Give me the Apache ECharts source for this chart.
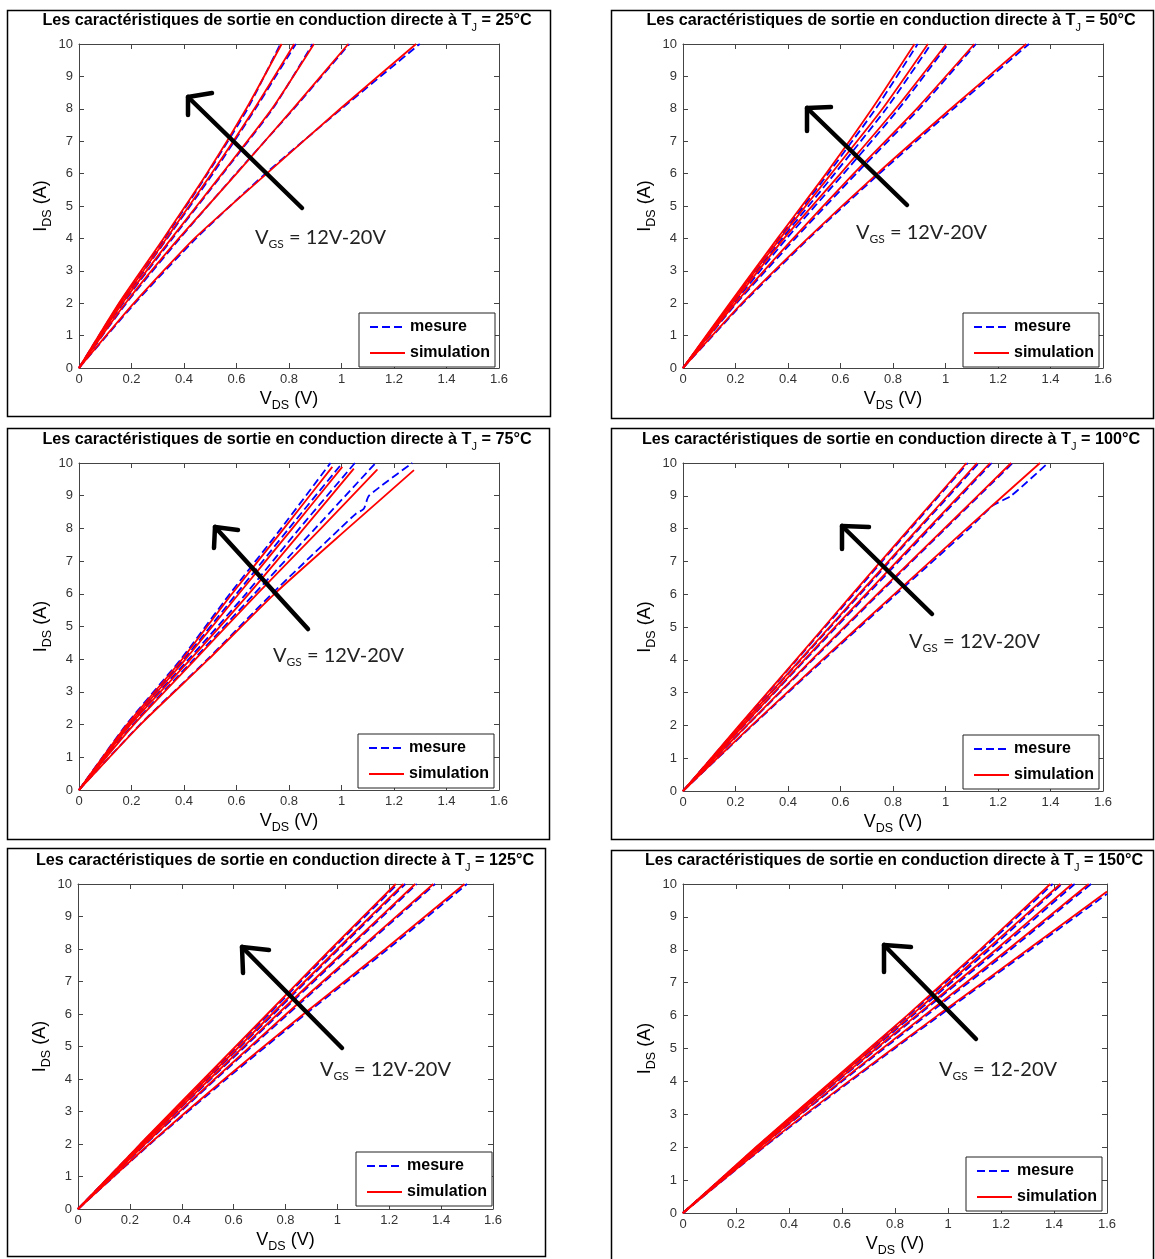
<!DOCTYPE html>
<html>
<head>
<meta charset="utf-8">
<script src="https://cdn.jsdelivr.net/npm/echarts@6/dist/echarts.min.js"></script>
<style>
  html, body { margin: 0; padding: 0; background: #fff; }
  #chart { width: 1155px; height: 1259px; }
</style>
</head>
<body>
<div id="chart"></div>
<script>
// junction temperatures (one panel each) and the V_GS note written on each panel
const temps = ['25', '50', '75', '100', '125', '150'];
const vgsNotes = ['12V-20V', '12V-20V', '12V-20V', '12V-20V', '12V-20V', '12-20V'];

// curves as [V_DS (V), I_DS (A)], order V_GS = 12, 14, 16, 18, 20 V
const sim25 = [
  [[0, 0], [0.209, 2], [0.440, 4], [0.715, 6], [0.995, 8], [1.284, 10]],
  [[0, 0], [0.177, 2], [0.380, 4], [0.600, 6], [0.815, 8], [1.026, 10]],
  [[0, 0], [0.165, 2], [0.352, 4], [0.545, 6], [0.735, 8], [0.895, 10]],
  [[0, 0], [0.158, 2], [0.333, 4], [0.505, 6], [0.668, 8], [0.820, 10]],
  [[0, 0], [0.152, 2], [0.322, 4], [0.487, 6], [0.637, 8], [0.772, 10]]
];
const mes25 = [
  [[0, 0], [0.213, 2], [0.446, 4], [0.710, 6], [1.000, 8], [1.298, 10]],
  [[0, 0], [0.180, 2], [0.384, 4], [0.598, 6], [0.818, 8], [1.030, 10]],
  [[0, 0], [0.168, 2], [0.356, 4], [0.548, 6], [0.738, 8], [0.890, 10]],
  [[0, 0], [0.161, 2], [0.336, 4], [0.510, 6], [0.672, 8], [0.826, 10]],
  [[0, 0], [0.154, 2], [0.326, 4], [0.490, 6], [0.642, 8], [0.767, 10]]
];
const sim50 = [
  [[0, 0], [0.225, 2], [0.475, 4], [0.740, 6], [1.020, 8], [1.307, 10]],
  [[0, 0], [0.200, 2], [0.420, 4], [0.650, 6], [0.890, 8], [1.110, 10]],
  [[0, 0], [0.190, 2], [0.385, 4], [0.600, 6], [0.810, 8], [1.003, 10]],
  [[0, 0], [0.183, 2], [0.370, 4], [0.565, 6], [0.760, 8], [0.933, 10]],
  [[0, 0], [0.178, 2], [0.360, 4], [0.545, 6], [0.720, 8], [0.882, 10]]
];
const mes50 = [
  [[0, 0], [0.229, 2], [0.480, 4], [0.748, 6], [1.030, 8], [1.318, 10]],
  [[0, 0], [0.204, 2], [0.428, 4], [0.660, 6], [0.900, 8], [1.116, 10]],
  [[0, 0], [0.194, 2], [0.395, 4], [0.612, 6], [0.822, 8], [1.010, 10]],
  [[0, 0], [0.187, 2], [0.378, 4], [0.578, 6], [0.774, 8], [0.945, 10]],
  [[0, 0], [0.182, 2], [0.366, 4], [0.553, 6], [0.734, 8], [0.894, 10]]
];
const sim75 = [
  [[0, 0], [0.234, 2], [0.494, 4], [0.745, 6], [1.024, 8], [1.276, 9.78]],
  [[0, 0], [0.209, 2], [0.444, 4], [0.679, 6], [0.922, 8], [1.136, 9.80]],
  [[0, 0], [0.196, 2], [0.425, 4], [0.647, 6], [0.857, 8], [1.047, 9.83]],
  [[0, 0], [0.190, 2], [0.406, 4], [0.609, 6], [0.813, 8], [1.003, 9.88]],
  [[0, 0], [0.183, 2], [0.393, 4], [0.583, 6], [0.781, 8], [0.965, 9.88]]
];
const mes75 = [
  [[0, 0], [0.232, 2], [0.490, 4], [0.735, 6], [0.995, 8], [1.055, 8.45], [1.085, 8.60], [1.105, 9.00], [1.270, 10]],
  [[0, 0], [0.205, 2], [0.438, 4], [0.668, 6], [0.900, 8], [1.130, 10]],
  [[0, 0], [0.193, 2], [0.418, 4], [0.636, 6], [0.840, 8], [1.051, 10]],
  [[0, 0], [0.186, 2], [0.400, 4], [0.600, 6], [0.800, 8], [1.003, 10]],
  [[0, 0], [0.180, 2], [0.388, 4], [0.575, 6], [0.770, 8], [0.958, 10]]
];
const sim100 = [
  [[0, 0], [0.262, 2], [0.530, 4], [0.805, 6], [1.080, 8], [1.360, 10]],
  [[0, 0], [0.243, 2], [0.490, 4], [0.740, 6], [0.995, 8], [1.250, 10]],
  [[0, 0], [0.230, 2], [0.462, 4], [0.697, 6], [0.933, 8], [1.170, 10]],
  [[0, 0], [0.222, 2], [0.446, 4], [0.670, 6], [0.895, 8], [1.120, 10]],
  [[0, 0], [0.214, 2], [0.430, 4], [0.645, 6], [0.862, 8], [1.080, 10]]
];
const mes100 = [
  [[0, 0], [0.265, 2], [0.536, 4], [0.812, 6], [1.090, 8], [1.180, 8.70], [1.250, 9.00], [1.390, 10]],
  [[0, 0], [0.245, 2], [0.494, 4], [0.745, 6], [1.000, 8], [1.256, 10]],
  [[0, 0], [0.232, 2], [0.466, 4], [0.703, 6], [0.940, 8], [1.176, 10]],
  [[0, 0], [0.223, 2], [0.449, 4], [0.675, 6], [0.900, 8], [1.127, 10]],
  [[0, 0], [0.216, 2], [0.433, 4], [0.650, 6], [0.867, 8], [1.085, 10]]
];
const sim125 = [
  [[0, 0], [0.275, 2], [0.565, 4], [0.870, 6], [1.185, 8], [1.490, 10]],
  [[0, 0], [0.258, 2], [0.527, 4], [0.803, 6], [1.085, 8], [1.370, 10]],
  [[0, 0], [0.250, 2], [0.508, 4], [0.770, 6], [1.035, 8], [1.300, 10]],
  [[0, 0], [0.245, 2], [0.495, 4], [0.748, 6], [1.000, 8], [1.255, 10]],
  [[0, 0], [0.240, 2], [0.485, 4], [0.730, 6], [0.975, 8], [1.225, 10]]
];
const mes125 = [
  [[0, 0], [0.278, 2], [0.572, 4], [0.878, 6], [1.195, 8], [1.500, 10]],
  [[0, 0], [0.261, 2], [0.532, 4], [0.810, 6], [1.092, 8], [1.377, 10]],
  [[0, 0], [0.252, 2], [0.512, 4], [0.776, 6], [1.042, 8], [1.306, 10]],
  [[0, 0], [0.247, 2], [0.499, 4], [0.754, 6], [1.006, 8], [1.262, 10]],
  [[0, 0], [0.242, 2], [0.489, 4], [0.736, 6], [0.982, 8], [1.232, 10]]
];
const sim150 = [
  [[0, 0], [0.302, 2], [0.625, 4], [0.960, 6], [1.300, 8], [1.600, 9.77]],
  [[0, 0], [0.290, 2], [0.595, 4], [0.910, 6], [1.225, 8], [1.531, 10]],
  [[0, 0], [0.283, 2], [0.578, 4], [0.880, 6], [1.180, 8], [1.468, 10]],
  [[0, 0], [0.278, 2], [0.567, 4], [0.860, 6], [1.145, 8], [1.424, 10]],
  [[0, 0], [0.275, 2], [0.560, 4], [0.845, 6], [1.120, 8], [1.386, 10]]
];
const mes150 = [
  [[0, 0], [0.305, 2], [0.630, 4], [0.968, 6], [1.310, 8], [1.600, 9.70]],
  [[0, 0], [0.292, 2], [0.600, 4], [0.918, 6], [1.235, 8], [1.540, 10]],
  [[0, 0], [0.285, 2], [0.582, 4], [0.886, 6], [1.190, 8], [1.478, 10]],
  [[0, 0], [0.280, 2], [0.570, 4], [0.866, 6], [1.155, 8], [1.430, 10]],
  [[0, 0], [0.277, 2], [0.563, 4], [0.850, 6], [1.128, 8], [1.395, 10]]
];

const simData = [sim25, sim50, sim75, sim100, sim125, sim150];
const mesData = [mes25, mes50, mes75, mes100, mes125, mes150];

// page layout in pixels (frame, plot box, title centre, legend corner, hand-drawn arrow, note)
const layout = [
  { frame: [7, 10, 543, 406], grid: [79, 44, 420, 324], title: [287, 21], legend: [359, 313],
    arrow: [[302, 208], [188, 97]], barbs: [[212, 93], [188, 97], [188, 115]], note: [255, 238] },
  { frame: [611, 10, 542, 408], grid: [683, 44, 420, 324], title: [891, 21], legend: [963, 313],
    arrow: [[907, 205], [807, 108]], barbs: [[831, 107], [807, 108], [807, 131]], note: [856, 233] },
  { frame: [7, 428, 542, 411], grid: [79, 463, 420, 327], title: [287, 440], legend: [358, 734],
    arrow: [[308, 629], [215, 527]], barbs: [[238, 530], [215, 527], [214, 548]], note: [273, 656] },
  { frame: [611, 428, 542, 411], grid: [683, 463, 420, 328], title: [891, 440], legend: [963, 735],
    arrow: [[932, 614], [842, 526]], barbs: [[869, 527], [842, 526], [842, 549]], note: [909, 642] },
  { frame: [7, 848, 538, 408], grid: [78, 884, 415, 325], title: [285, 861], legend: [356, 1152],
    arrow: [[342, 1048], [242, 947]], barbs: [[269, 950], [242, 947], [243, 973]], note: [320, 1070] },
  { frame: [611, 850, 542, 412], grid: [683, 884, 424, 329], title: [894, 861], legend: [966, 1157],
    arrow: [[976, 1039], [884, 945]], barbs: [[911, 947], [884, 945], [884, 972]], note: [939, 1070] }
];

const FONT = '"Liberation Sans", Arial, Helvetica, sans-serif';
const AXIS = '#444';

const chart = echarts.init(document.getElementById('chart'));

const grids = [], xAxes = [], yAxes = [], series = [], legends = [], graphics = [];

temps.forEach((t, k) => {
  const L = layout[k];
  grids.push({ left: L.grid[0], top: L.grid[1], width: L.grid[2], height: L.grid[3], show: false });

  const common = {
    gridIndex: k, type: 'value',
    axisLine: { show: true, onZero: false, lineStyle: { color: AXIS, width: 1 } },
    axisTick: { show: true, inside: true, length: 5, lineStyle: { color: AXIS } },
    splitLine: { show: false },
    nameMoveOverlap: false
  };
  const sub = {
    b: { fontSize: 18, lineHeight: 26, color: '#000', fontFamily: FONT },
    s: { fontSize: 12.5, lineHeight: 12, color: '#000', fontFamily: FONT, verticalAlign: 'bottom' }
  };

  xAxes.push(Object.assign({}, common, {
    min: 0, max: 1.6, interval: 0.2, position: 'bottom',
    name: '{b|V}{s|DS}{b| (V)}', nameLocation: 'middle', nameGap: 18,
    nameTextStyle: { rich: sub },
    axisLabel: { color: '#333', fontSize: 13, margin: 5, fontFamily: FONT }
  }));
  xAxes.push(Object.assign({}, common, {
    min: 0, max: 1.6, interval: 0.2, position: 'top', axisLabel: { show: false }
  }));
  yAxes.push(Object.assign({}, common, {
    min: 0, max: 10, interval: 1, position: 'left',
    name: '{b|I}{s|DS}{b| (A)}', nameLocation: 'middle', nameGap: 25, nameRotate: 90,
    nameTextStyle: { rich: sub },
    axisLabel: { color: '#333', fontSize: 13, margin: 6, fontFamily: FONT }
  }));
  yAxes.push(Object.assign({}, common, {
    min: 0, max: 10, interval: 1, position: 'right', axisLabel: { show: false }
  }));

  mesData[k].forEach(curve => {
    series.push({
      type: 'line', name: 'mesure', xAxisIndex: 2 * k, yAxisIndex: 2 * k,
      data: curve, symbol: 'none', smooth: 0.2, silent: true,
      lineStyle: { color: '#0000ff', width: 1.8, type: [8, 4] },
      itemStyle: { color: '#0000ff' }
    });
  });
  simData[k].forEach(curve => {
    series.push({
      type: 'line', name: 'simulation', xAxisIndex: 2 * k, yAxisIndex: 2 * k,
      data: curve, symbol: 'none', smooth: 0.2, silent: true,
      lineStyle: { color: '#ff0000', width: 1.8 },
      itemStyle: { color: '#ff0000' }
    });
  });

  legends.push({
    data: ['mesure', 'simulation'], orient: 'vertical',
    left: L.legend[0], top: L.legend[1],
    padding: [6, 5, 6, 10], itemGap: 10, itemWidth: 35, itemHeight: 14,
    backgroundColor: '#fff', borderColor: '#222', borderWidth: 1, borderRadius: 0,
    selectedMode: false, itemStyle: { opacity: 0 },
    textStyle: { fontSize: 16, fontWeight: 'bold', color: '#000', fontFamily: FONT }
  });

  // panel frame
  graphics.push({
    type: 'rect', silent: true, z: 1,
    shape: { x: L.frame[0] + 0.5, y: L.frame[1] + 0.5, width: L.frame[2], height: L.frame[3] },
    style: { fill: null, stroke: '#000', lineWidth: 1.5 }
  });
  // title
  graphics.push({
    type: 'text', silent: true, z: 10,
    style: {
      x: L.title[0], y: L.title[1], align: 'center', verticalAlign: 'middle',
      text: '{t|Les caractéristiques de sortie en conduction directe à T}{j|J}{t| = ' + t + '°C}',
      rich: {
        t: { fontSize: 16.2, lineHeight: 24, fill: '#000', fontFamily: FONT, fontWeight: 'bold' },
        j: { fontSize: 11, lineHeight: 12, fill: '#000', fontFamily: FONT, verticalAlign: 'bottom' }
      }
    }
  });
  // hand-drawn arrow
  graphics.push({
    type: 'polyline', silent: true, z: 20,
    shape: { points: L.arrow },
    style: { stroke: '#000', lineWidth: 4.5, lineCap: 'round', lineJoin: 'round', fill: null }
  });
  graphics.push({
    type: 'polyline', silent: true, z: 20,
    shape: { points: L.barbs },
    style: { stroke: '#000', lineWidth: 4.5, lineCap: 'round', lineJoin: 'round', fill: null }
  });
  // V_GS note
  graphics.push({
    type: 'text', silent: true, z: 20,
    style: {
      x: L.note[0], y: L.note[1], align: 'left', verticalAlign: 'middle',
      text: '{v|V}{s|GS}{v| = ' + vgsNotes[k] + '}',
      rich: {
        v: { fontSize: 20, lineHeight: 24, fill: '#222', fontFamily: 'Lato, "Open Sans", sans-serif' },
        s: { fontSize: 12, lineHeight: 16, fill: '#222', fontFamily: 'Lato, "Open Sans", sans-serif', verticalAlign: 'bottom' }
      }
    }
  });
});

chart.setOption({
  animation: false,
  backgroundColor: '#fff',
  textStyle: { fontFamily: FONT },
  grid: grids,
  xAxis: xAxes,
  yAxis: yAxes,
  legend: legends,
  series: series,
  graphic: graphics
});
</script>
</body>
</html>
